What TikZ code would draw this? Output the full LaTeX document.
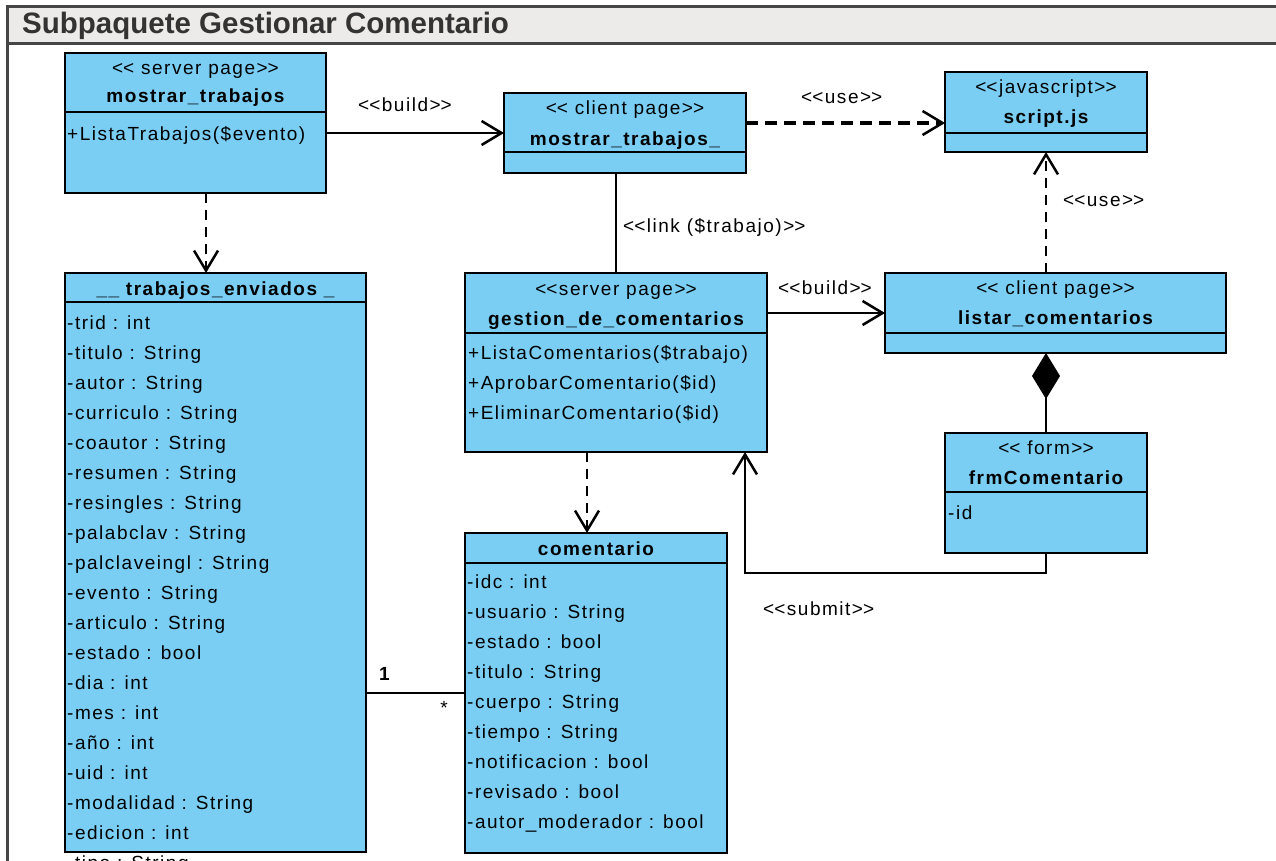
\documentclass[tikz,border=0pt]{standalone}
\usepackage{fontspec}
\setmainfont{Liberation Sans}[LetterSpace=8]
\newfontfamily\titlefont{Liberation Sans}
\usetikzlibrary{arrows.meta,calc}
\definecolor{umlblue}{RGB}{122,206,244}
\definecolor{headgray}{RGB}{236,235,233}
\definecolor{framegray}{RGB}{70,70,70}
\definecolor{titlegray}{RGB}{51,51,51}
% stereotype text << ... >> (kerns keep the angle brackets from merging)
\newcommand\stype[1]{\textless\kern0pt\textless#1\textgreater\kern0pt\textgreater}
% class box with a compartment line #6 below its top edge
\newcommand\umlclass[6]{%
  \node[cls, minimum width=#4pt, minimum height=#5pt] (#1) at (#2,#3) {};
  \draw[sepline] ($(#1.north west)+(0,#6)$) -- ($(#1.north east)+(0,#6)$);
}
\begin{document}
\begin{tikzpicture}[x=1pt,y=-1pt,
  txt/.style={font=\fontsize{19}{21}\selectfont, inner sep=0pt},
  stereo/.style={txt, anchor=base},
  cname/.style={txt, font=\fontsize{19}{21}\selectfont\bfseries, anchor=base},
  member/.style={txt, anchor=base west},
  lbl/.style={txt, anchor=base west},
  cls/.style={draw=black, fill=umlblue, line width=2.5pt, inner sep=0pt, outer sep=0pt, anchor=north west},
  sepline/.style={line width=2pt},
  tip/.style={-{Straight Barb[length=20pt,width=24pt,line width=2.5pt]}},
  plaincon/.style={line width=2.5pt},
  solidcon/.style={plaincon, tip},
  dashcon/.style={line width=2.5pt, dash pattern=on 10pt off 7pt, tip}
]
\useasboundingbox (0,0) rectangle (1276,861);

% package frame and header
\fill[headgray] (7,7) rectangle (1276,44);
\draw[framegray, line width=3pt] (1276,7) -- (7,7) -- (7,861);
\draw[framegray, line width=3pt] (7,44) -- (1276,44);
\node[anchor=base west, font=\titlefont\fontsize{29.5}{31}\selectfont\bfseries, text=titlegray, inner sep=0pt] (title) at (22,34) {Subpaquete Gestionar Comentario};

% classes
\umlclass{mt}{65}{53}{261}{140}{59}
\umlclass{mc}{504}{93}{242}{80}{59}
\umlclass{sj}{945}{72}{202}{80}{61}
\umlclass{te}{65}{273}{301}{579}{29}
\umlclass{gc}{465}{273}{302}{179}{60}
\umlclass{lc}{885}{273}{341}{80}{60}
\umlclass{fc}{945}{433}{202}{120}{59}
\umlclass{co}{465}{533}{262}{320}{30}

% mostrar_trabajos (server page)
\node[stereo] (mt-s) at (195.5,75) {\stype{ server page}};
\node[cname] (mt-n) at (195.5,103) {mostrar\_trabajos};
\node[member] (mt-o1) at (67,141) {+ListaTrabajos(\$evento)};

% mostrar_trabajos_ (client page)
\node[stereo] (mc-s) at (625,115) {\stype{ client page}};
\node[cname] (mc-n) at (625,146) {mostrar\_trabajos\_};

% script.js
\node[stereo] (sj-s) at (1046,94) {\stype{javascript}};
\node[cname] (sj-n) at (1046,124) {script.js};

% __ trabajos_enviados _
\node[cname] (te-n) at (215.5,295) {\_\_ trabajos\_enviados \_};
\foreach \t [count=\i from 0] in {-trid : int,-titulo : String,-autor : String,-curriculo : String,-coautor : String,-resumen : String,-resingles : String,-palabclav : String,-palclaveingl : String,-evento : String,-articulo : String,-estado : bool,-dia : int,-mes : int,-año : int,-uid : int,-modalidad : String,-edicion : int,-tipo : String}
  \node[member] (te-a\i) at (67,329+30*\i) {\t};

% gestion_de_comentarios (server page)
\node[stereo] (gc-s) at (616,295) {\stype{server page}};
\node[cname] (gc-n) at (616,325) {gestion\_de\_comentarios};
\node[member] (gc-o1) at (468,359) {+ListaComentarios(\$trabajo)};
\node[member] (gc-o2) at (468,389) {+AprobarComentario(\$id)};
\node[member] (gc-o3) at (468,419) {+EliminarComentario(\$id)};

% listar_comentarios (client page)
\node[stereo] (lc-s) at (1055.5,294) {\stype{ client page}};
\node[cname] (lc-n) at (1055.5,324) {listar\_comentarios};

% frmComentario (form)
\node[stereo] (fc-s) at (1046,454) {\stype{ form}};
\node[cname] (fc-n) at (1046,484) {frmComentario};
\node[member] (fc-a1) at (948,519) {-id};

% comentario
\node[cname] (co-n) at (596,555) {comentario};
\foreach \t [count=\i from 0] in {-idc : int,-usuario : String,-estado : bool,-titulo : String,-cuerpo : String,-tiempo : String,-notificacion : bool,-revisado : bool,-autor\_moderador : bool}
  \node[member] (co-a\i) at (467,588+30*\i) {\t};

% connector end points
\coordinate (d1) at ($(mt.south)+(10.5,0)$);
\coordinate (d2) at ($(gc.south)+(-29,0)$);
\coordinate (sb) at (745,573);

% connectors
\draw[solidcon] (mt.east |- mc.west) -- (mc.west);
\draw[dashcon, line width=3.5pt, dash pattern=on 12pt off 7pt] (mc.east |- mt.east) -- (sj.west |- mt.east);
\draw[dashcon, line width=2pt] (lc.north -| sj.south) -- (sj.south);
\draw[dashcon, line width=2pt] (d1) -- (d1 |- te.north);
\draw[plaincon] (gc.north |- mc.south) -- (gc.north);
\draw[solidcon] (gc.east |- lc.west) -- (lc.west);
\draw[dashcon, line width=2pt] (d2) -- (d2 |- co.north);
\draw[solidcon] (fc.south) |- (sb) -- (sb |- gc.south);
\draw[plaincon] (te.east |- co.west) -- (co.west);
\draw[line width=2.5pt, -{Diamond[length=46pt,width=28pt]}] (fc.north) -- (fc.north |- lc.south);

% connector labels
\node[lbl] (l-build1) at (358,112) {\stype{build}};
\node[lbl] (l-use1) at (801,104) {\stype{use}};
\node[lbl] (l-use2) at (1063,207) {\stype{use}};
\node[lbl] (l-link) at (623,232) {\stype{link (\$trabajo)}};
\node[lbl] (l-build2) at (778,294) {\stype{build}};
\node[lbl] (l-submit) at (763,615) {\stype{submit}};
\node[lbl, font=\fontsize{19}{21}\selectfont\bfseries] (m-one) at (379,680) {1};
\node[txt] (m-many) at (444,708) {*};
\end{tikzpicture}
\end{document}
